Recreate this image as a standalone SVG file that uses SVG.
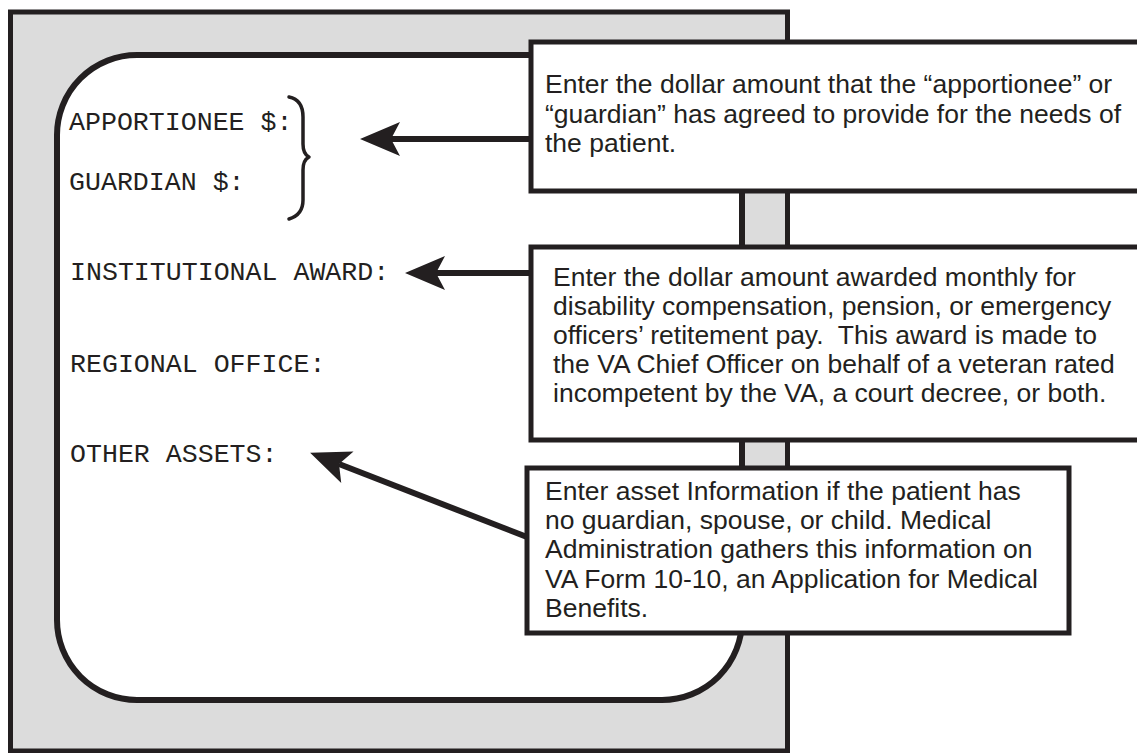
<svg xmlns="http://www.w3.org/2000/svg" width="1137" height="753" viewBox="0 0 1137 753">
  <style>
    .frame { fill: #dcdcdc; stroke: #231f20; stroke-width: 5; }
    .screen { fill: #ffffff; stroke: #231f20; stroke-width: 6; }
    .callout { fill: #ffffff; stroke: #231f20; stroke-width: 5; }
    .mono { font-family: "Liberation Mono", "Courier New", monospace; font-size: 26.6px; fill: #231f20; }
    .sans { font-family: "Liberation Sans", Arial, sans-serif; font-size: 26.5px; fill: #231f20; }
    .conn { fill: none; stroke: #231f20; stroke-width: 6; marker-end: url(#head); }
    .brace { fill: none; stroke: #231f20; stroke-width: 3.5; stroke-linecap: round; stroke-linejoin: round; }
  </style>
  <defs>
    <marker id="head" markerUnits="userSpaceOnUse" viewBox="-10 -18 42 36" markerWidth="42" markerHeight="36" refX="0" refY="0" orient="auto" overflow="visible">
      <path d="M 31 0 L -9 -17 L 0 0 L -9 17 Z" fill="#231f20"/>
    </marker>
  </defs>

  <rect width="1137" height="753" fill="#ffffff"/>

  <g id="frame">
    <rect class="frame" x="10.5" y="12" width="777" height="739"/>
  </g>

  <g id="screen">
    <rect class="screen" x="57" y="55" width="685" height="645" rx="80" ry="80"/>
    <text class="mono" x="69" y="130">APPORTIONEE $:</text>
    <text class="mono" x="69" y="190">GUARDIAN $:</text>
    <path class="brace" d="M 289 97 C 299 99, 303 106, 303 117 L 303 144 C 303 151, 305 155, 309 157 C 305 159, 303 163, 303 170 L 303 200 C 303 210, 299 216, 289 219"/>
    <text class="mono" x="70" y="280">INSTITUTIONAL AWARD:</text>
    <text class="mono" x="70" y="372">REGIONAL OFFICE:</text>
    <text class="mono" x="70" y="462">OTHER ASSETS:</text>
  </g>

  <g id="connectors">
    <line class="conn" x1="531" y1="139" x2="391" y2="139"/>
    <line class="conn" x1="531" y1="273" x2="436" y2="273"/>
    <line class="conn" x1="527" y1="537" x2="339" y2="464"/>
  </g>

  <g id="callout-apportionee">
    <rect class="callout" x="531" y="42" width="620" height="149"/>
    <text class="sans" x="545" y="93">Enter the dollar amount that the “apportionee” or</text>
    <text class="sans" x="545" y="123">“guardian” has agreed to provide for the needs of</text>
    <text class="sans" x="545" y="152">the patient.</text>
  </g>

  <g id="callout-award">
    <rect class="callout" x="531" y="247" width="620" height="193"/>
    <text class="sans" x="553" y="286">Enter the dollar amount awarded monthly for</text>
    <text class="sans" x="553" y="315">disability compensation, pension, or emergency</text>
    <text class="sans" x="553" y="344">officers’ retitement pay.&#160; This award is made to</text>
    <text class="sans" x="553" y="373">the VA Chief Officer on behalf of a veteran rated</text>
    <text class="sans" x="553" y="402">incompetent by the VA, a court decree, or both.</text>
  </g>

  <g id="callout-assets">
    <rect class="callout" x="527" y="468" width="542" height="165"/>
    <text class="sans" x="545" y="500">Enter asset Information if the patient has</text>
    <text class="sans" x="545" y="529">no guardian, spouse, or child. Medical</text>
    <text class="sans" x="545" y="558">Administration gathers this information on</text>
    <text class="sans" x="545" y="588">VA Form 10-10, an Application for Medical</text>
    <text class="sans" x="545" y="617">Benefits.</text>
  </g>
</svg>
